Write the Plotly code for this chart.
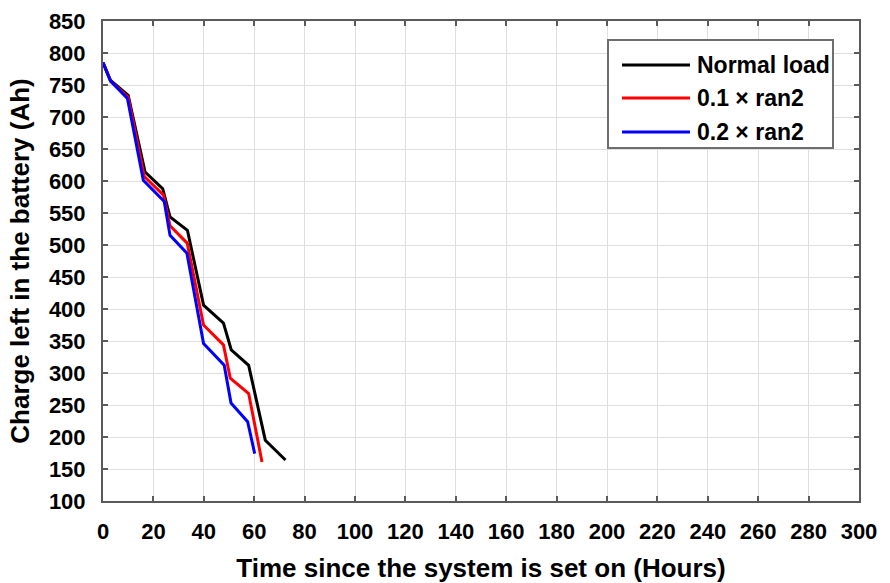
import plotly.graph_objects as go

# Data
normal_x = [0, 3, 10, 16.7, 23.7, 26.6, 33.5, 39.9, 47.8, 50.9, 57.8, 64.4, 72.4]
normal_y = [785, 757, 734, 614, 588, 544, 523, 406, 378, 336, 312, 195, 164]

r01_x = [0, 3, 10, 16.4, 24, 26.6, 33.4, 39.9, 47.8, 50.5, 57.8, 63.1]
r01_y = [785, 756, 731, 607, 578, 530, 503, 375, 344, 292, 268, 161]

r02_x = [0, 3, 9.7, 16, 24.3, 26.6, 33.3, 39.9, 48.1, 50.8, 57.4, 60.2]
r02_y = [785, 756, 729, 601, 568, 515, 487, 346, 312, 253, 224, 174]

names = ["Normal load", "0.1 × ran2", "0.2 × ran2"]
colors = ["#000000", "#ff0000", "#0000ff"]
series_x = [normal_x, r01_x, r02_x]
series_y = [normal_y, r01_y, r02_y]

x_ticks = list(range(0, 301, 20))
y_ticks = list(range(100, 851, 50))

W, H = 890, 583
ML, MR, MT, MB = 103, 31, 21, 82
PW, PH = W - ML - MR, H - MT - MB


def px(xp):
    return (xp - ML) / PW


def py(yp):
    return (H - MB - yp) / PH


fig = go.Figure()
for name, xs, ys, col in zip(names, series_x, series_y, colors):
    fig.add_trace(go.Scatter(x=xs, y=ys, mode="lines", name=name,
                             line=dict(color=col, width=3), showlegend=False))

font_family = "Liberation Sans, Arial, sans-serif"
axis_common = dict(
    showgrid=True, gridcolor="#dedede", gridwidth=1,
    showline=True, linecolor="#5a5a5a", linewidth=2, mirror="ticks",
    ticks="inside", ticklen=5, tickcolor="#5a5a5a", tickwidth=2,
    zeroline=False, automargin=False,
    tickfont=dict(family=font_family, size=22, color="#000", weight="bold"),
)

# Manual legend (box, line samples, labels)
shapes = [dict(type="rect", xref="paper", yref="paper",
               x0=px(608), x1=px(833), y0=py(148), y1=py(40),
               line=dict(color="#6e6e6e", width=2), fillcolor="white",
               layer="above")]
annotations = []
row_y = [65, 98, 132]
for name, col, ry in zip(names, colors, row_y):
    shapes.append(dict(type="line", xref="paper", yref="paper",
                       x0=px(622), x1=px(690), y0=py(ry), y1=py(ry),
                       line=dict(color=col, width=3), layer="above"))
    annotations.append(dict(xref="paper", yref="paper", x=px(695), y=py(ry),
                            xanchor="left", yanchor="middle", showarrow=False,
                            text=name,
                            font=dict(family=font_family, size=23,
                                      color="#000", weight="bold")))

fig.update_layout(
    width=W, height=H,
    margin=dict(l=ML, r=MR, t=MT, b=MB),
    paper_bgcolor="white", plot_bgcolor="white",
    font=dict(family=font_family, color="#000"),
    showlegend=False,
    xaxis=dict(range=[0, 300], tickvals=x_ticks, ticklabelstandoff=10,
               title=dict(text="Time since the system is set on (Hours)",
                          font=dict(size=26, weight="bold"), standoff=16),
               **axis_common),
    yaxis=dict(range=[100, 850], tickvals=y_ticks, ticklabelstandoff=11,
               title=dict(text="Charge left in the battery (Ah)",
                          font=dict(size=26, weight="bold"), standoff=12),
               **axis_common),
    shapes=shapes,
    annotations=annotations,
)

fig.write_html("out.html", config={"displayModeBar": False},
               post_script="document.body.style.margin='0';")
